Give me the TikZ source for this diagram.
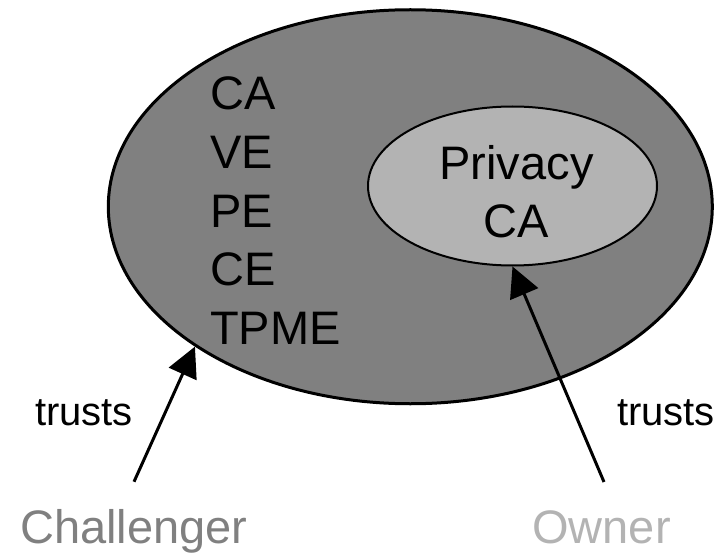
\documentclass[tikz,border=0pt]{standalone}
\usepackage{fontspec}
\setmainfont{Liberation Sans}
\usetikzlibrary{shapes.geometric,arrows.meta}
\definecolor{darkfill}{HTML}{808080}
\definecolor{lightfill}{HTML}{B3B3B3}
\tikzset{
	bigtext/.style={font=\fontsize{47}{58}\selectfont, inner sep=0pt},
	smalltext/.style={font=\fontsize{40}{48}\selectfont, inner sep=0pt},
	trustarrow/.style={line width=3pt, -{Triangle[length=30pt,width=30pt]}}
}
\begin{document}
\begin{tikzpicture}[x=1pt,y=-1pt]
		\useasboundingbox (0,0) rectangle (725,556);
		\node[draw, ellipse, fill=darkfill, line width=3pt, minimum width=604pt, minimum height=394pt, inner sep=0pt] (domain) at (410.3,206.75) {};
		\node[draw, ellipse, fill=lightfill, line width=2pt, minimum width=289pt, minimum height=159pt, inner sep=0pt] (pca) at (512.5,186) {};
		\node[bigtext, align=center] (pcatext) at (516.5,192) {Privacy\\CA};
		\node[bigtext, anchor=base west] (ca) at (210,110) {CA};
		\node[bigtext, anchor=base west] (ve) at (210,168.5) {VE};
		\node[bigtext, anchor=base west] (pe) at (210,227) {PE};
		\node[bigtext, anchor=base west] (ce) at (210,285.5) {CE};
		\node[bigtext, anchor=base west] (tpme) at (210,344) {TPME};
		\node[smalltext, anchor=base] (trustsleft) at (84,425) {trusts};
		\node[smalltext, anchor=base] (trustsright) at (666,425) {trusts};
		\node[bigtext, anchor=base, text=darkfill] (challenger) at (134,543) {Challenger};
		\node[bigtext, anchor=base, text=lightfill] (owner) at (601.5,543) {Owner};
		\draw[trustarrow] ([yshift=27pt]challenger.north) -- (domain.213.7);
		\draw[trustarrow] ([xshift=2.5pt,yshift=28pt]owner.north) -- (pca.south);
	\end{tikzpicture}
\end{document}
